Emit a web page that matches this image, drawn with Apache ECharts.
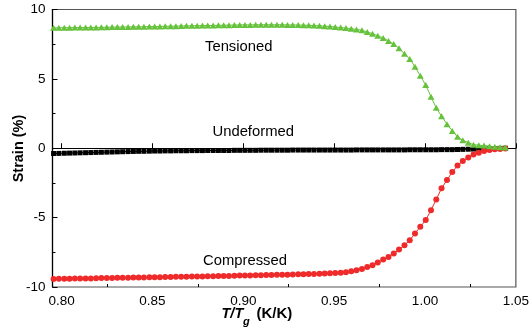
<!DOCTYPE html>
<html><head><meta charset="utf-8">
<script src="https://cdn.jsdelivr.net/npm/echarts@6/dist/echarts.min.js"></script>
<style>html,body{margin:0;padding:0;background:#fff}#c{width:532px;height:331px}</style>
</head><body><div id="c"></div>
<script>
const tRatio = [0.7956,0.7985,0.8015,0.8044,0.8073,0.8102,0.8132,0.8161,0.8190,0.8219,
0.8249,0.8278,0.8307,0.8336,0.8366,0.8395,0.8424,0.8453,0.8483,0.8512,
0.8541,0.8570,0.8600,0.8629,0.8658,0.8687,0.8717,0.8746,0.8775,0.8804,
0.8834,0.8863,0.8892,0.8921,0.8951,0.8980,0.9009,0.9038,0.9068,0.9097,
0.9126,0.9155,0.9185,0.9214,0.9243,0.9272,0.9302,0.9331,0.9360,0.9389,
0.9419,0.9448,0.9477,0.9506,0.9536,0.9565,0.9594,0.9623,0.9653,0.9682,
0.9711,0.9740,0.9770,0.9799,0.9828,0.9857,0.9887,0.9916,0.9945,0.9974,
1.0004,1.0033,1.0062,1.0091,1.0121,1.0150,1.0179,1.0208,1.0238,1.0267,
1.0296,1.0325,1.0355,1.0384,1.0413,1.0442];

const tensioned = [8.68,8.68,8.69,8.69,8.70,8.70,8.70,8.71,8.71,8.72,
8.72,8.73,8.73,8.74,8.74,8.75,8.75,8.76,8.77,8.77,
8.78,8.79,8.80,8.80,8.81,8.82,8.83,8.83,8.84,8.85,
8.85,8.86,8.87,8.87,8.88,8.89,8.89,8.89,8.90,8.90,
8.90,8.90,8.90,8.90,8.89,8.89,8.88,8.87,8.86,8.84,
8.82,8.80,8.77,8.74,8.70,8.66,8.61,8.56,8.50,8.38,
8.26,8.11,7.95,7.73,7.51,7.20,6.81,6.43,5.87,5.22,
4.55,3.71,2.91,2.31,1.73,1.25,0.82,0.58,0.40,0.26,
0.22,0.19,0.15,0.11,0.08,0.05];

const undeformed = [-0.38,-0.37,-0.36,-0.35,-0.34,-0.33,-0.32,-0.31,-0.30,-0.29,
-0.28,-0.27,-0.26,-0.25,-0.24,-0.23,-0.22,-0.22,-0.21,-0.20,
-0.20,-0.19,-0.19,-0.18,-0.18,-0.18,-0.17,-0.17,-0.17,-0.16,
-0.16,-0.16,-0.16,-0.16,-0.15,-0.15,-0.15,-0.15,-0.15,-0.14,
-0.14,-0.14,-0.14,-0.14,-0.14,-0.13,-0.13,-0.13,-0.13,-0.13,
-0.13,-0.13,-0.13,-0.13,-0.13,-0.13,-0.13,-0.12,-0.12,-0.12,
-0.12,-0.12,-0.12,-0.12,-0.12,-0.12,-0.12,-0.11,-0.11,-0.11,
-0.11,-0.11,-0.11,-0.10,-0.10,-0.10,-0.09,-0.08,-0.07,-0.06,
-0.05,-0.04,-0.03,-0.02,-0.01,0.00];

const compressed = [-9.42,-9.41,-9.41,-9.40,-9.39,-9.39,-9.38,-9.38,-9.37,-9.36,
-9.36,-9.35,-9.34,-9.34,-9.33,-9.32,-9.32,-9.31,-9.30,-9.30,
-9.29,-9.28,-9.28,-9.27,-9.26,-9.26,-9.25,-9.24,-9.24,-9.23,
-9.22,-9.21,-9.21,-9.20,-9.19,-9.18,-9.17,-9.17,-9.16,-9.15,
-9.14,-9.13,-9.12,-9.12,-9.11,-9.10,-9.09,-9.08,-9.07,-9.06,
-9.05,-9.03,-9.01,-8.99,-8.97,-8.93,-8.87,-8.80,-8.70,-8.55,
-8.43,-8.24,-8.02,-7.83,-7.59,-7.30,-6.99,-6.63,-6.14,-5.66,
-5.18,-4.46,-3.69,-2.89,-2.29,-1.72,-1.25,-0.92,-0.66,-0.45,
-0.32,-0.20,-0.13,-0.08,-0.05,-0.01];

const xTicks = [0.80,0.85,0.90,0.95,1.00,1.05];
const xMinorTicks = [0.825,0.875,0.925,0.975,1.025];

const pair = arr => tRatio.map((x,i)=>[x, arr[i]]);
const FONT = 'Liberation Sans, Arial, sans-serif';

const chart = echarts.init(document.getElementById('c'), null, {renderer:'canvas'});
chart.setOption({
  animation:false,
  backgroundColor:'#fff',
  grid:{left:52.5,right:14.5,top:9.5,bottom:44,show:true,borderColor:'#555',borderWidth:1.2,containLabel:false},
  xAxis:[{
    type:'value',min:0.795,max:1.05,
    axisLine:{show:true,lineStyle:{color:'#000',width:1.2}},
    axisTick:{show:true,inside:true,length:5,customValues:xTicks,lineStyle:{color:'#000'}},
    axisLabel:{show:true,customValues:xTicks,margin:7,color:'#000',fontSize:13.5,fontFamily:FONT,
      formatter:v=>v.toFixed(2),showMinLabel:true,showMaxLabel:true},
    splitLine:{show:false}
  },{
    type:'value',min:0.795,max:1.05,position:'bottom',
    axisLine:{show:false},
    axisTick:{show:true,inside:true,length:3,customValues:xMinorTicks,lineStyle:{color:'#000'}},
    axisLabel:{show:false},
    splitLine:{show:false}
  }],
  yAxis:{
    type:'value',min:-10,max:10,interval:5,
    axisLine:{show:true,lineStyle:{color:'#000',width:1.2}},
    axisTick:{show:true,inside:true,length:5,lineStyle:{color:'#000'}},
    minorTick:{show:true,splitNumber:2,length:3,lineStyle:{color:'#000'}},
    axisLabel:{color:'#000',fontSize:13.5,fontFamily:FONT,margin:7},
    splitLine:{show:false}
  },
  series:[
    {name:'Undeformed',type:'line',data:pair(undeformed),symbol:'rect',symbolSize:5,
      itemStyle:{color:'#000'},lineStyle:{color:'#000',width:1},z:2},
    {name:'Compressed',type:'line',data:pair(compressed),symbol:'circle',symbolSize:6,
      itemStyle:{color:'#ee2a2a'},lineStyle:{color:'#ee2a2a',width:1},z:3},
    {name:'Tensioned',type:'line',data:pair(tensioned),symbol:'triangle',symbolSize:[7,6],
      itemStyle:{color:'#66c23c'},lineStyle:{color:'#66c23c',width:1},z:4}
  ],
  graphic:[
    {type:'text',x:205,y:46.5,style:{text:'Tensioned',font:'14.8px '+FONT,fill:'#000',textVerticalAlign:'middle'}},
    {type:'text',x:212.5,y:132,style:{text:'Undeformed',font:'14.8px '+FONT,fill:'#000',textVerticalAlign:'middle'}},
    {type:'text',x:203,y:261,style:{text:'Compressed',font:'14.8px '+FONT,fill:'#000',textVerticalAlign:'middle'}},
    {type:'text',x:19,y:148.5,rotation:Math.PI/2,style:{text:'Strain (%)',font:'bold 14.5px '+FONT,fill:'#000',textAlign:'center',textVerticalAlign:'middle'}},
    {type:'text',x:221.5,y:313.5,style:{text:'T/T',font:'italic bold 14.5px '+FONT,fill:'#000',textVerticalAlign:'middle'}},
    {type:'text',x:243,y:322,style:{text:'g',font:'italic bold 11px '+FONT,fill:'#000',textVerticalAlign:'middle'}},
    {type:'text',x:256.5,y:313.5,style:{text:'(K/K)',font:'bold 15px '+FONT,fill:'#000',textVerticalAlign:'middle'}}
  ]
});
</script>
</body></html>
